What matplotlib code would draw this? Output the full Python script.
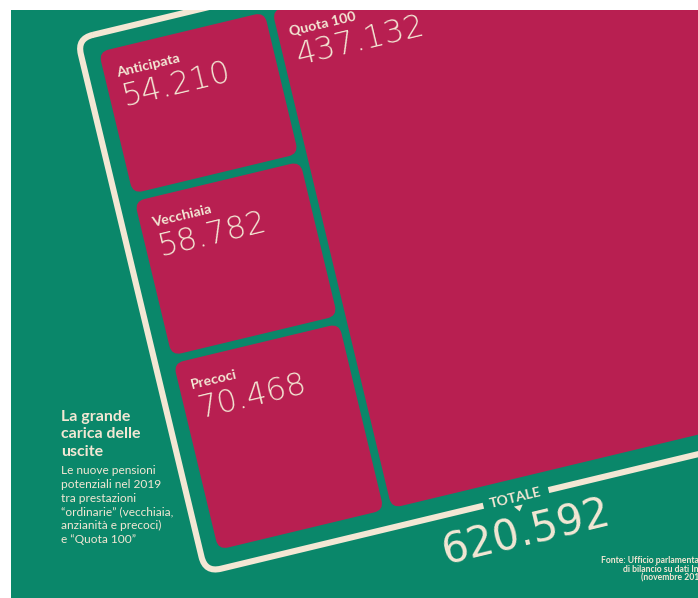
import matplotlib
matplotlib.use("Agg")
import matplotlib.pyplot as plt
from matplotlib.patches import FancyBboxPatch, Rectangle, Polygon
from matplotlib.transforms import Affine2D

# ---- data ----
categories = ["Anticipata", "Vecchiaia", "Precoci", "Quota 100"]
values = [54210, 58782, 70468, 437132]
value_labels = ["54.210", "58.782", "70.468", "437.132"]
total_label = "TOTALE"
total_value = "620.592"
title_lines = ["La grande", "carica delle", "uscite"]
subtitle_lines = ["Le nuove pensioni", "potenziali nel 2019", "tra prestazioni",
                  "“ordinarie” (vecchiaia,", "anzianità e precoci)", "e “Quota 100”"]
source_lines = ["Fonte: Ufficio parlamentare", "di bilancio su dati Inps", "(novembre 2018)"]

GREEN = "#0A876A"
RED = "#B81F51"
CREAM = "#F3E7D4"

fig = plt.figure(figsize=(6.98, 5.98), dpi=100)
ax = fig.add_axes([0, 0, 1, 1])
ax.set_xlim(0, 698)
ax.set_ylim(598, 0)
ax.axis("off")

bg = Rectangle((11, 10), 687, 588, facecolor=GREEN, edgecolor="none")
ax.add_patch(bg)

theta = 13.5
rot = Affine2D().rotate_deg(-theta).translate(94, 49) + ax.transData

W, H = 603, 520
total = sum(values)
col_vals = values[:3]
col_w = W * sum(col_vals) / total
cells = []
y = 0
for v in col_vals:
    h = H * v / sum(col_vals)
    cells.append((0, y, col_w, h))
    y += h
cells.append((col_w, 0, W - col_w, H))

pad = 4
for (x0, y0, w, h), cat, lab in zip(cells, categories, value_labels):
    p = FancyBboxPatch((x0 + pad, y0 + pad), w - 2 * pad, h - 2 * pad,
                       boxstyle="round,pad=0,rounding_size=10",
                       facecolor=RED, edgecolor="none", transform=rot)
    ax.add_patch(p)
    p.set_clip_path(bg)
    t1 = ax.text(x0 + pad + 12, y0 + pad + 29, cat, transform=rot, rotation=theta,
                 rotation_mode="anchor", ha="left", va="baseline",
                 fontfamily="Lato", fontweight="bold", fontsize=10.2, color=CREAM)
    t2 = ax.text(x0 + pad + 13, y0 + pad + 59, lab, transform=rot, rotation=theta,
                 rotation_mode="anchor", ha="left", va="baseline",
                 fontfamily="DejaVu Sans", fontweight="light", fontsize=22.8, color=CREAM)
    t1.set_clip_path(bg)
    t2.set_clip_path(bg)

# frame
fr = FancyBboxPatch((-14, -14), W + 28, H + 29,
                    boxstyle="round,pad=0,rounding_size=16",
                    facecolor="none", edgecolor=CREAM, linewidth=4.4, transform=rot)
ax.add_patch(fr)
fr.set_clip_path(bg)
gap = Rectangle((272, H + 8), 67, 14, facecolor=GREEN, edgecolor="none", transform=rot)
ax.add_patch(gap)
ax.text(305.5, H + 15, total_label, transform=rot, rotation=theta, rotation_mode="anchor",
        ha="center", va="center", fontfamily="Lato", fontweight="bold", fontsize=10,
        color=CREAM)
tri = Polygon([(301.5, H + 23), (310.5, H + 23), (306, H + 29)], closed=True,
              facecolor=CREAM, edgecolor="none", transform=rot)
ax.add_patch(tri)
ax.text(307, H + 51, total_value, transform=rot, rotation=theta, rotation_mode="anchor",
        ha="center", va="center", fontfamily="DejaVu Sans", fontweight="normal",
        fontsize=30, color=CREAM)

# left text
for yb, line in zip([420.5, 438.0, 455.5], title_lines):
    ax.text(61, yb, line, ha="left", va="baseline", fontfamily="Lato",
            fontweight="bold", fontsize=11.5, color=CREAM)
for yb, line in zip([474, 487.8, 501.7, 515.6, 529.4, 543.3], subtitle_lines):
    ax.text(61, yb, line, ha="left", va="baseline", fontfamily="Lato",
            fontsize=8.6, color=CREAM)

for yb, line in zip([563, 571.5, 580], source_lines):
    ax.text(707, yb, line, ha="right", va="baseline", fontfamily="Lato",
            fontweight="bold", fontsize=6.2, color=CREAM)

fig.savefig("out.png", dpi=100, facecolor="white")
